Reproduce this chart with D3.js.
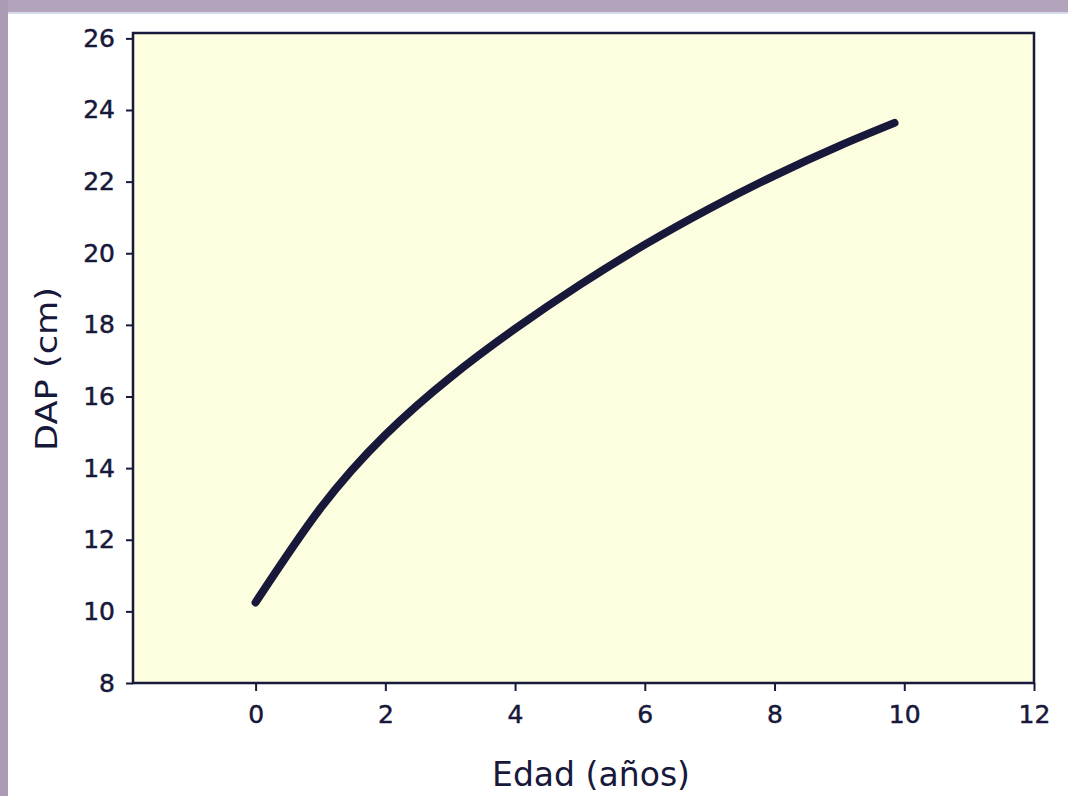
<!DOCTYPE html>
<html>
<head>
<meta charset="utf-8">
<script src="https://cdn.jsdelivr.net/npm/d3@7"></script>
<style>
  body { margin: 0; background: #fff; }
  svg { display: block; font-family: "DejaVu Sans", "Liberation Sans", Arial, sans-serif; }
</style>
</head>
<body>
<svg id="chart" width="1068" height="796"></svg>
<script>
// edad (años) vs DAP (cm)
const edad = [0, 1, 2, 3, 4, 5, 6, 7, 8, 9, 9.85];
const dap = [10.25, 12.88, 14.93, 16.53, 17.89, 19.12, 20.24, 21.25, 22.17, 23.0, 23.64];
const xTicks = [0, 2, 4, 6, 8, 10, 12];
const yTicks = [8, 10, 12, 14, 16, 18, 20, 22, 24, 26];

const ink = "#17183a";
const font = "DejaVu Sans, Liberation Sans, Arial, sans-serif";
const svg = d3.select("#chart");

// scanned page edge
svg.append("rect").attr("x", 0).attr("y", 0).attr("width", 1068).attr("height", 12).attr("fill", "#b3a3bb");
svg.append("rect").attr("x", 0).attr("y", 0).attr("width", 8).attr("height", 796).attr("fill", "#ab9cb5");
svg.append("line").attr("x1", 8).attr("x2", 1068).attr("y1", 13).attr("y2", 13)
  .attr("stroke", "#d6dcec").attr("stroke-width", 2);

const plotL = 133, plotR = 1034, plotT = 33, plotB = 683;

const x = d3.scaleLinear().domain([-1.89, 12]).range([plotL, plotR]);
const y = d3.scaleLinear().domain([8, 26.15]).range([plotB, plotT]);

svg.append("rect")
  .attr("x", plotL).attr("y", plotT)
  .attr("width", plotR - plotL).attr("height", plotB - plotT)
  .attr("fill", "#fdfddf")
  .attr("stroke", ink).attr("stroke-width", 2.5);

// y axis
const yAxis = svg.append("g")
  .attr("transform", `translate(${plotL},0)`)
  .call(d3.axisLeft(y).tickValues(yTicks).tickSize(7).tickPadding(11));
yAxis.select(".domain").remove();
yAxis.selectAll("line").attr("stroke", ink).attr("stroke-width", 2);
yAxis.selectAll("text").attr("fill", ink).attr("stroke", ink).attr("stroke-width", 0.5)
  .style("font-family", font).style("font-size", "25px");

// x axis
const xAxis = svg.append("g")
  .attr("transform", `translate(0,${plotB})`)
  .call(d3.axisBottom(x).tickValues(xTicks).tickSize(8).tickPadding(14));
xAxis.select(".domain").remove();
xAxis.selectAll("line").attr("stroke", ink).attr("stroke-width", 2);
xAxis.selectAll("text").attr("fill", ink).attr("stroke", ink).attr("stroke-width", 0.5)
  .style("font-family", font).style("font-size", "25px");

// curve
const line = d3.line()
  .x((d, i) => x(edad[i]))
  .y(d => y(d))
  .curve(d3.curveNatural);

svg.append("path")
  .datum(dap)
  .attr("d", line)
  .attr("fill", "none")
  .attr("stroke", ink)
  .attr("stroke-width", 8)
  .attr("stroke-linecap", "round")
  .attr("stroke-linejoin", "round");

// axis titles
svg.append("text")
  .attr("x", 591).attr("y", 786)
  .attr("text-anchor", "middle")
  .style("font-family", font).style("font-size", "34px")
  .attr("textLength", 198).attr("lengthAdjust", "spacingAndGlyphs")
  .attr("fill", ink)
  .text("Edad (años)");

svg.append("text")
  .attr("transform", "translate(57,369) rotate(-90)")
  .attr("text-anchor", "middle")
  .style("font-family", font).style("font-size", "31px")
  .attr("textLength", 164).attr("lengthAdjust", "spacingAndGlyphs")
  .attr("fill", ink)
  .text("DAP (cm)");
</script>
</body>
</html>
